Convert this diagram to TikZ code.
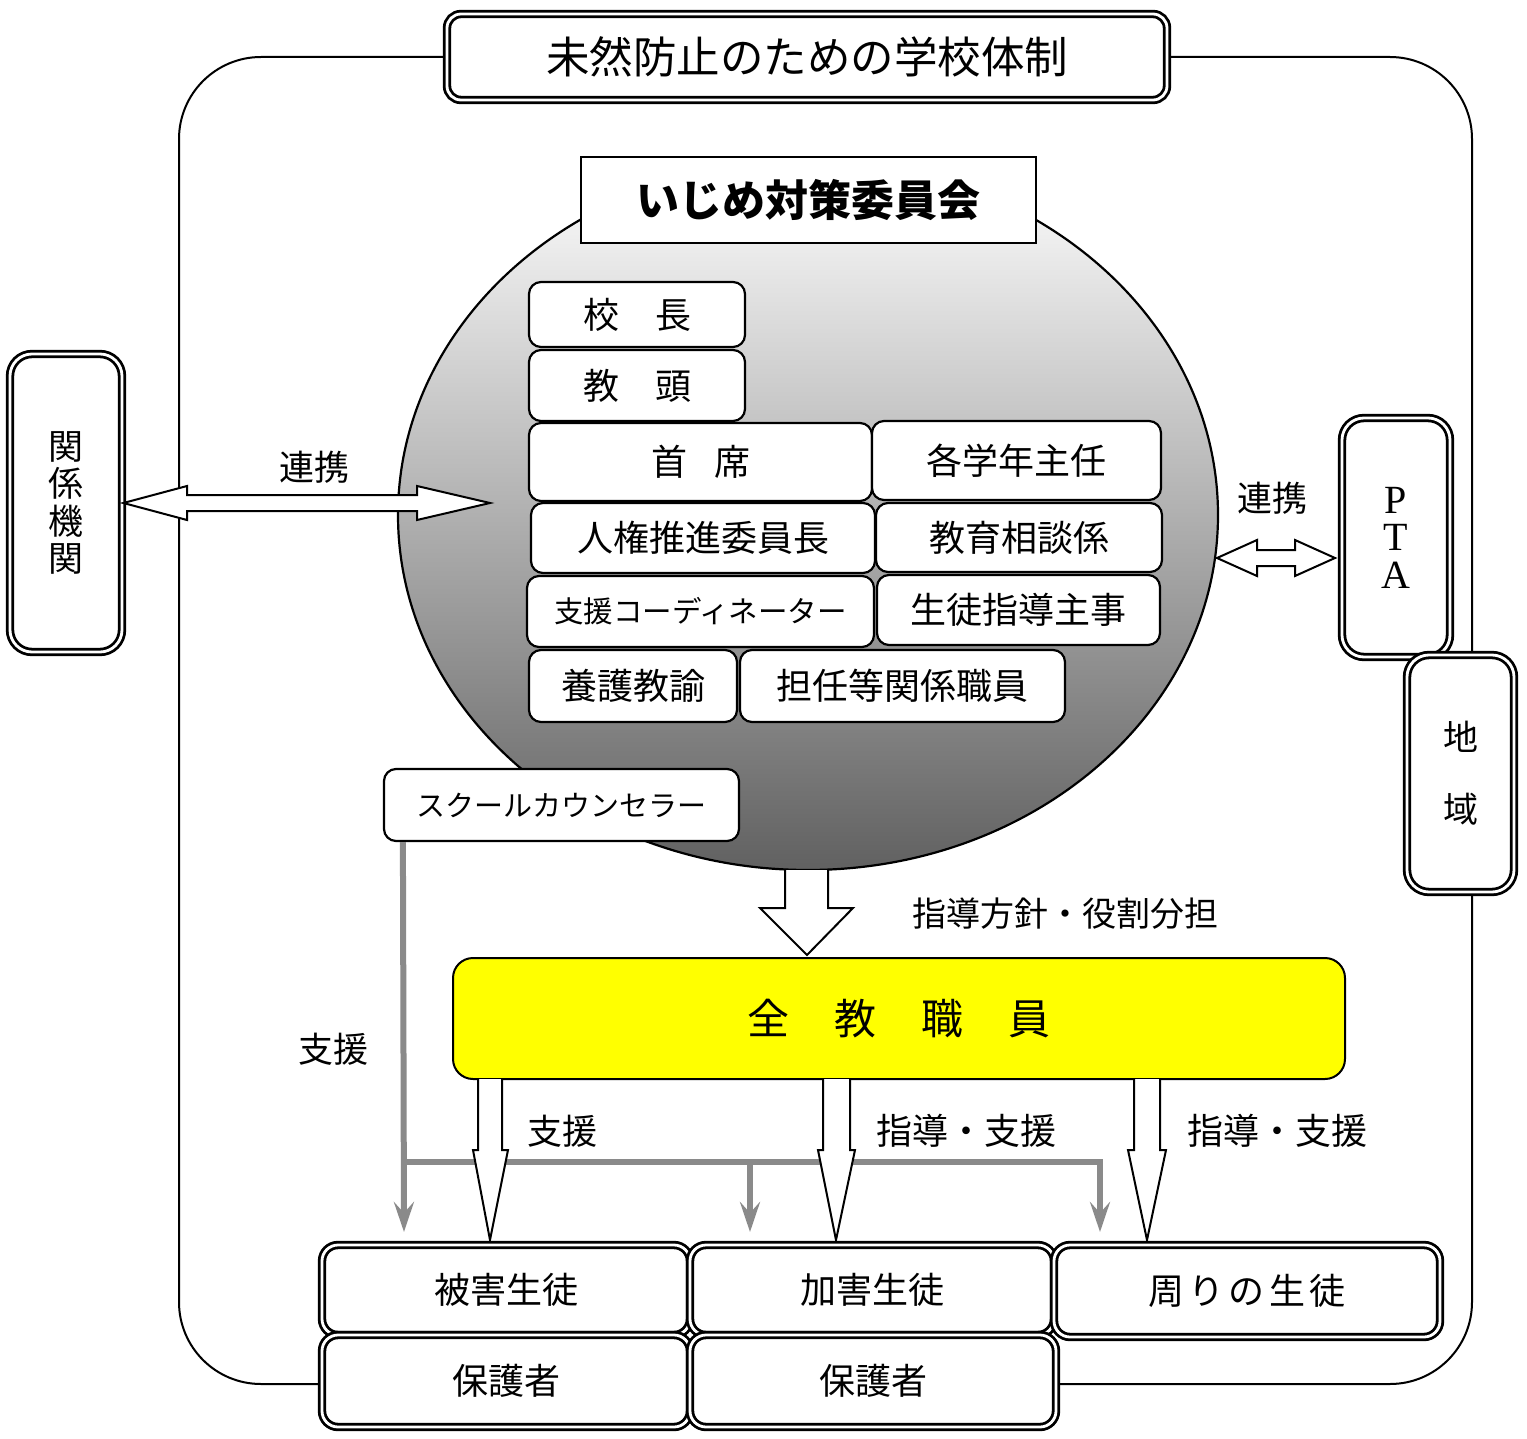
\documentclass[tikz,border=0pt]{standalone}
\usepackage{fontspec}
\setmainfont{Noto Sans CJK JP}
\newfontfamily\latserif{Liberation Serif}
\usetikzlibrary{arrows.meta,calc}
\definecolor{staffyellow}{RGB}{255,255,0}
\definecolor{supportgray}{RGB}{138,138,138}
\newcommand\fs[1]{\fontsize{#1}{#1}\selectfont}
\newcommand\placebox[7][]{%
  \pgfmathsetmacro\pbw{#5-#3}%
  \pgfmathsetmacro\pbh{#6-#4}%
  \pgfmathsetmacro\pbx{(#3+#5)/2}%
  \pgfmathsetmacro\pby{(#4+#6)/2}%
  \node[#1, minimum width=\pbw pt, minimum height=\pbh pt] (#2) at (\pbx,\pby) {#7};}
\begin{document}
\begin{tikzpicture}[x=1pt,y=-1pt,
  ibox/.style={draw, fill=white, rounded corners=12pt, line width=2.2pt, inner sep=0pt, font=\fs{36}},
  dbox/.style={draw, double=white, double distance=2.8pt, line width=2.8pt, fill=white, rounded corners=16pt, inner sep=0pt, font=\fs{36}},
  blk/.style={draw, fill=white, line width=2pt, line join=miter},
  garrow/.style={draw=supportgray, line width=6pt, -{Stealth[length=30pt,width=20pt,inset=11pt]}},
  gline/.style={draw=supportgray, line width=6pt},
  lbl/.style={font=\fs{35}, inner sep=0pt},
  frame/.style={draw, line width=2pt},
]
\useasboundingbox (0,0) rectangle (1527,1439);
\fill[white] (0,0) rectangle (1527,1439);

% outer frame
\draw[frame, rounded corners=82pt] (179,57) rectangle (1472,1384);

% committee ellipse
\draw[line width=2.2pt, top color=white, middle color=black!14, bottom color=black!62]
  (808,515) ellipse [x radius=410pt, y radius=355pt];

% title boxes
\placebox[dbox, font=\fs{43.5}, rounded corners=14pt]{title}{447}{14}{1167}{100}{未然防止のための学校体制}
\placebox[draw, fill=white, line width=2.2pt, inner sep=0pt, font=\bfseries\fs{43}]{comm}{581}{157}{1036}{243}{いじめ対策委員会}

% members
\placebox[ibox]{kocho}{529}{282}{745}{347}{校　長}
\placebox[ibox]{kyoto}{529}{350}{745}{421}{教　頭}
\placebox[ibox]{shuseki}{529}{423}{872}{501}{首\hspace{0.75em}席}
\placebox[ibox]{gakunen}{872}{421}{1161}{500}{各学年主任}
\placebox[ibox]{jinken}{531}{503}{875}{573}{人権推進委員長}
\placebox[ibox]{soudan}{876}{503}{1162}{572}{教育相談係}
\placebox[ibox, font=\fs{29.5}]{coord}{527}{576}{874}{647}{支援コーディネーター}
\placebox[ibox]{seito}{877}{575}{1160}{645}{生徒指導主事}
\placebox[ibox]{yogo}{529}{650}{737}{722}{養護教諭}
\placebox[ibox]{tannin}{740}{650}{1065}{722}{担任等関係職員}
\placebox[ibox, font=\fs{29}]{sc}{384}{769}{739}{841}{スクールカウンセラー}

% side boxes
\placebox[dbox, rounded corners=22pt, font=\fontsize{35}{37.5}\selectfont, align=center]{kikan}{10}{354}{122}{652}{関\\係\\機\\関}
\placebox[dbox, rounded corners=22pt, font=\latserif\fontsize{40}{37.5}\selectfont, align=center]{pta}{1342}{418}{1450}{657}{P\\T\\A}
\placebox[dbox, rounded corners=22pt, font=\fontsize{35}{72}\selectfont, align=center]{chiiki}{1407}{655}{1514}{892}{地\\域}

% double arrows (連携)
\draw[blk] (kikan.east) -- (187,486) -- (187,495) -- (417,495) -- (417,486) -- (490,503)
  -- (417,520) -- (417,511) -- (187,511) -- (187,520) -- cycle;
\node[lbl] (renkei1) at (314,467) {連携};
\draw[blk] (1217,558) -- (1257,540) -- (1257,550) -- (1295,550) -- (1295,540) -- (1335,558)
  -- (1295,576) -- (1295,566) -- (1257,566) -- (1257,576) -- cycle;
\node[lbl] (renkei2) at (1272,498) {連携};

% big arrow down
\draw[blk] (785,870) -- (785,908) -- (760,908) -- (807,955) -- (853,908) -- (828,908) -- (828,870);
\node[lbl, font=\fs{34}, anchor=west] (hoshin) at (912,914) {指導方針・役割分担};

% gray support lines
\coordinate (g1) at (404,1232);
\coordinate (g2) at (750,1232);
\coordinate (g3) at (1100,1232);
\draw[garrow] ($(sc.south west)+(20,0)$) -- (g1);
\draw[gline] (404,1162) -- (1100,1162);
\draw[garrow] (750,1162) -- (g2);
\draw[garrow] (1100,1159) -- (g3);
\node[lbl] (shien0) at (333,1049) {支援};

% all staff
\placebox[draw, fill=staffyellow, line width=2pt, rounded corners=20pt, inner sep=0pt, font=\fs{42}]{zen}{453}{958}{1345}{1079}{全\hspace{1.07em}教\hspace{1.07em}職\hspace{1.07em}員}

% narrow arrows
\draw[blk] (478,1079) -- (478,1150) -- (473,1150) -- (490,1240) -- (508,1150) -- (502,1150) -- (502,1079);
\draw[blk] (823,1079) -- (823,1150) -- (818,1150) -- (836,1240) -- (855,1150) -- (850,1150) -- (850,1079);
\draw[blk] (1134,1079) -- (1134,1150) -- (1128,1150) -- (1147,1240) -- (1166,1150) -- (1160,1150) -- (1160,1079);
\node[lbl] (shien1) at (562,1131) {支援};
\node[lbl, font=\fs{36}] (shido1) at (966,1131) {指導・支援};
\node[lbl, font=\fs{36}] (shido2) at (1277,1131) {指導・支援};

% students and guardians
\placebox[dbox]{higai}{322}{1245}{690}{1335}{被害生徒}
\placebox[dbox]{kagai}{690}{1245}{1054}{1335}{加害生徒}
\placebox[dbox]{mawari}{1054}{1245}{1440}{1337}{周\hspace{0.12em}り\hspace{0.12em}の\hspace{0.12em}生\hspace{0.12em}徒}
\placebox[dbox]{hogo1}{322}{1335}{690}{1427}{保護者}
\placebox[dbox]{hogo2}{690}{1335}{1056}{1427}{保護者}
\end{tikzpicture}
\end{document}
